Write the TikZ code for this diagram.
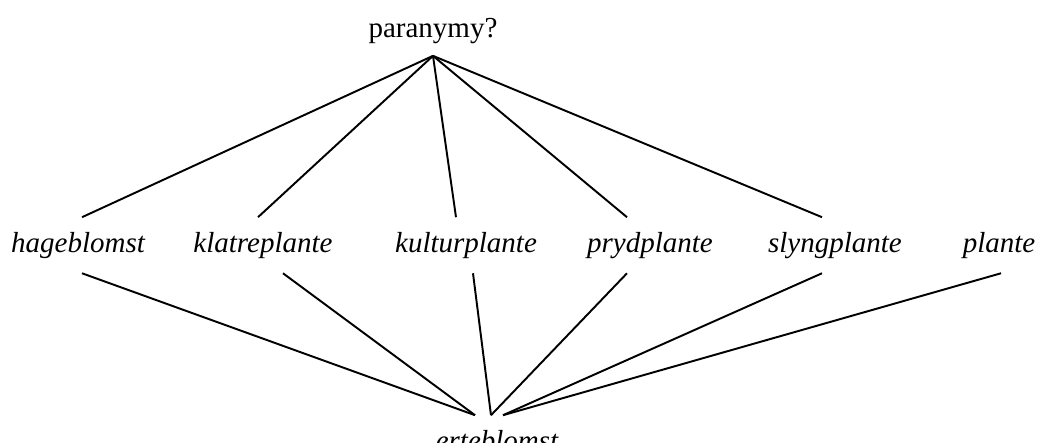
\documentclass[tikz,border=0pt]{standalone}
\usepackage{fontspec}
\setmainfont{Liberation Serif}
\usetikzlibrary{calc}

\begin{document}
\begin{tikzpicture}[
  x=0.4138pt, y=-0.4138pt,
  word/.style={anchor=base, font=\fontsize{12pt}{14pt}\selectfont\itshape,
               inner xsep=2pt, inner ysep=6pt, text height=8.2pt, text depth=2.6pt},
  label/.style={anchor=base, font=\fontsize{12pt}{14pt}\selectfont,
                inner xsep=2pt, inner ysep=5pt, text height=8.2pt, text depth=2.6pt},
  edge/.style={thick},
]
  \useasboundingbox (0,0) rectangle (1040,443);

  % Toppnode
  \node[label] (para) at (433, 37) {paranymy?};

  % Mellomrad
  \node[word] (hage)   at (78, 252)  {hageblomst};
  \node[word] (klatre) at (263, 252) {klatreplante};
  \node[word] (kultur) at (466, 252) {kulturplante};
  \node[word] (pryd)   at (650, 252) {prydplante};
  \node[word] (slyng)  at (835, 252) {slyngplante};
  \node[word] (plante) at (999, 252) {plante};

  % Bunnnode
  \node[word] (erte) at (497, 450) {erteblomst};

  % Linjer opp
  \draw[edge] (para.south) -- ($(hage.north)+(4,0)$);
  \draw[edge] (para.south) -- ($(klatre.north)+(-5,0)$);
  \draw[edge] (para.south) -- ($(kultur.north)+(-10,0)$);
  \draw[edge] (para.south) -- ($(pryd.north)+(-23,0)$);
  \draw[edge] (para.south) -- ($(slyng.north)+(-13,0)$);

  % Linjer ned
  \draw[edge] ($(hage.south)+(4,0)$)    -- ($(erte.north)+(-22,0)$);
  \draw[edge] ($(klatre.south)+(20,0)$) -- ($(erte.north)+(-22,0)$);
  \draw[edge] ($(kultur.south)+(7,0)$)  -- ($(erte.north)+(-6,0)$);
  \draw[edge] ($(pryd.south)+(-23,0)$)  -- ($(erte.north)+(-6,0)$);
  \draw[edge] ($(slyng.south)+(-13,0)$) -- ($(erte.north)+(6,0)$);
  \draw[edge] ($(plante.south)+(2,0)$)  -- ($(erte.north)+(6,0)$);
\end{tikzpicture}
\end{document}
